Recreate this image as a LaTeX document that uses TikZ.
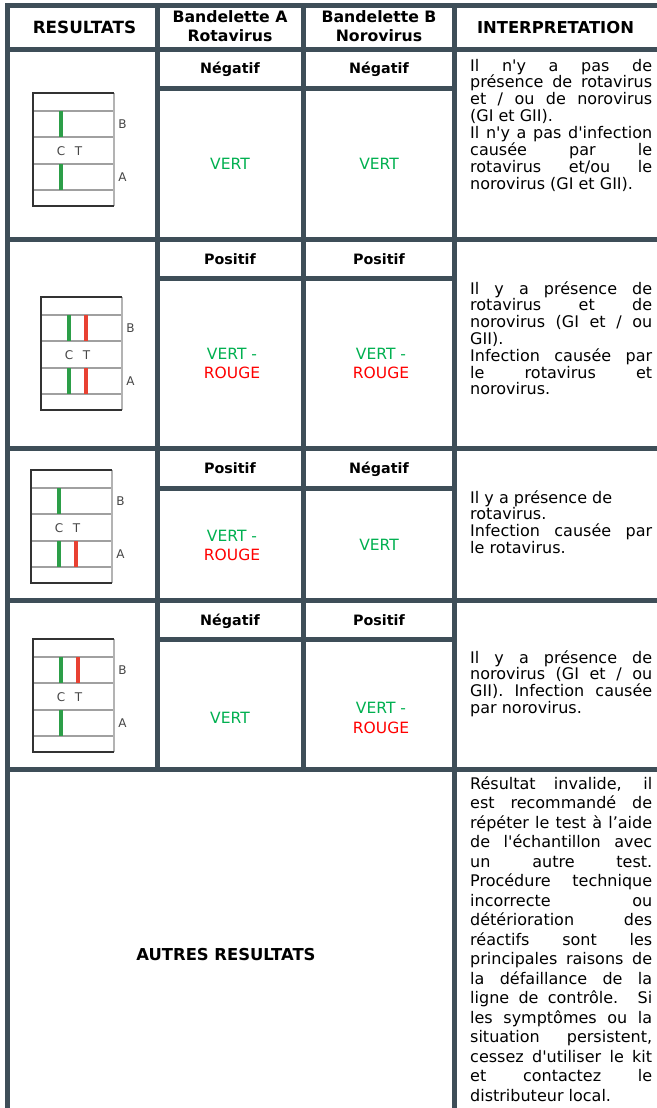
\documentclass[tikz,border=0pt]{standalone}
\usepackage{fontspec}
\setmainfont{DejaVu Sans}[Ligatures=TeXOff]
\definecolor{gridc}{RGB}{62,78,88}
\definecolor{vert}{RGB}{0,176,80}
\definecolor{rouge}{RGB}{255,0,0}
\definecolor{barg}{RGB}{44,158,72}
\definecolor{barr}{RGB}{232,65,50}
\definecolor{stripdark}{RGB}{50,50,50}
\definecolor{stripline}{RGB}{160,160,160}
\newlength\jw \setlength\jw{182pt}
\newcommand\jline[1]{\hbox to \jw{\spaceskip=0.318em plus 1fil\relax #1}}
\newcommand\lline[1]{\hbox to \jw{#1\hfil}}
\tikzset{
  gridline/.style={draw=gridc, line width=5pt, line cap=rect},
  hd/.style={font=\fontsize{15.7}{19}\selectfont\bfseries, inner sep=0pt, anchor=base},
  subhd/.style={font=\fontsize{14.3}{17}\selectfont\bfseries, inner sep=0pt, anchor=base},
  res/.style={font=\fontsize{15.5}{18.5}\selectfont, inner sep=0pt, anchor=base},
  interp/.style={font=\fontsize{16}{16.8}\selectfont, inner sep=0pt, anchor=base west},
  slab/.style={font=\fontsize{12}{13}\selectfont, text=stripdark!90, inner sep=0pt, anchor=base},
  stripin/.style={draw=stripline, line width=1.2pt},
  stripout/.style={draw=stripdark, line width=1.3pt},
  stripedge/.style={draw=stripline!80, line width=1.3pt},
}
% strip: x, y, red on B (1/0), red on A (1/0), name prefix
\newcommand\strip[5]{%
\begin{scope}[shift={(#1,#2)}]
  \draw[stripin] (0,18)--(81,18) (0,44)--(81,44) (0,71)--(81,71) (0,97)--(81,97);
  \draw[stripedge] (81,0)--(81,113);
  \draw[stripout] (81,0)--(0,0)--(0,113)--(81,113);
  \fill[barg] (25.5,18) rectangle (30,44);
  \fill[barg] (25.5,71) rectangle (30,97);
  \ifnum#3=1 \fill[barr] (42.5,18) rectangle (47,44);\fi
  \ifnum#4=1 \fill[barr] (42.5,71) rectangle (47,97);\fi
  \node[slab] (#5B) at (89.5,35.5) {B};
  \node[slab] (#5A) at (89.5,88.5) {A};
  \node[slab] (#5C) at (28,62) {C};
  \node[slab] (#5T) at (45.5,62) {T};
\end{scope}}
\begin{document}
\begin{tikzpicture}[x=1pt,y=-1pt]
\useasboundingbox (0,0) rectangle (656,1108);
\fill[white] (0,0) rectangle (656,1108);
% grid
\draw[gridline] (7.5,5.5)--(656,5.5);
\draw[gridline] (7.5,49.5)--(656,49.5);
\draw[gridline] (7.5,239.5)--(656,239.5);
\draw[gridline] (7.5,448.5)--(656,448.5);
\draw[gridline] (7.5,600.5)--(656,600.5);
\draw[gridline] (7.5,769.5)--(656,769.5);
\draw[gridline] (157,88.5)--(454.5,88.5);
\draw[gridline] (157,278.5)--(454.5,278.5);
\draw[gridline] (157,488.5)--(454.5,488.5);
\draw[gridline] (157,639.5)--(454.5,639.5);
\draw[gridline] (7.5,5.5)--(7.5,1110);
\draw[gridline] (157,5.5)--(157,769.5);
\draw[gridline] (303,5.5)--(303,769.5);
\draw[gridline] (454.5,5.5)--(454.5,1110);
% header
\node[hd, font=\fontsize{16.8}{19}\selectfont\bfseries] (hres) at (84.5,33.5) {RESULTATS};
\node[hd] (hA1) at (230,22.5) {Bandelette A};
\node[hd] (hA2) at (230,41.5) {Rotavirus};
\node[hd] (hB1) at (379,22.5) {Bandelette B};
\node[hd] (hB2) at (379,41.5) {Norovirus};
\node[hd, font=\fontsize{16.4}{19}\selectfont\bfseries] (hint) at (555.5,33.5) {INTERPRETATION};
% row 1
\strip{33}{93}{0}{0}{s1}
\node[subhd] (r1a) at (230,74) {Négatif};
\node[subhd] (r1b) at (379,74) {Négatif};
\node[res, text=vert] (r1av) at (230,169.5) {VERT};
\node[res, text=vert] (r1bv) at (379,169.5) {VERT};
\node[interp] (r1i) at (470,71) {\vtop{\baselineskip=16.9pt
  \jline{Il n'y a pas de}
  \jline{présence de rotavirus}
  \jline{et / ou de norovirus}
  \lline{(GI et GII).}
  \jline{Il n'y a pas d'infection}
  \jline{causée par le}
  \jline{rotavirus et/ou le}
  \lline{norovirus (GI et GII).}}};
% row 2
\strip{41}{297}{1}{1}{s2}
\node[subhd] (r2a) at (230,264) {Positif};
\node[subhd] (r2b) at (379,264) {Positif};
\node[res, text=vert] (r2av) at (232,359.5) {VERT -};
\node[res, text=rouge] (r2ar) at (232,378.5) {ROUGE};
\node[res, text=vert] (r2bv) at (381,359.5) {VERT -};
\node[res, text=rouge] (r2br) at (381,378.5) {ROUGE};
\node[interp] (r2i) at (470,294) {\vtop{\baselineskip=16.8pt
  \jline{Il y a présence de}
  \jline{rotavirus et de}
  \jline{norovirus (GI et / ou}
  \lline{GII).}
  \jline{Infection causée par}
  \jline{le rotavirus et}
  \lline{norovirus.}}};
% row 3
\strip{31}{470}{0}{1}{s3}
\node[subhd] (r3a) at (230,473.5) {Positif};
\node[subhd] (r3b) at (379,473.5) {Négatif};
\node[res, text=vert] (r3av) at (232,541.5) {VERT -};
\node[res, text=rouge] (r3ar) at (232,560) {ROUGE};
\node[res, text=vert] (r3bv) at (379,550) {VERT};
\node[interp] (r3i) at (470,503) {\vtop{\baselineskip=16.8pt
  \lline{Il y a présence de}
  \lline{rotavirus.}
  \jline{Infection causée par}
  \lline{le rotavirus.}}};
% row 4
\strip{33}{639}{1}{0}{s4}
\node[subhd] (r4a) at (230,625) {Négatif};
\node[subhd] (r4b) at (379,625) {Positif};
\node[res, text=vert] (r4av) at (230,723.5) {VERT};
\node[res, text=vert] (r4bv) at (381,713.5) {VERT -};
\node[res, text=rouge] (r4br) at (381,733) {ROUGE};
\node[interp] (r4i) at (470,663) {\vtop{\baselineskip=16.8pt
  \jline{Il y a présence de}
  \jline{norovirus (GI et / ou}
  \jline{GII). Infection causée}
  \lline{par norovirus.}}};
% row 5
\node[hd, font=\fontsize{16.4}{19}\selectfont\bfseries] (r5) at (226,960.5) {AUTRES RESULTATS};
\node[interp] (r5i) at (470,789) {\vtop{\baselineskip=19.5pt
  \jline{Résultat invalide, il}
  \jline{est recommandé de}
  \jline{répéter le test à l’aide}
  \jline{de l'échantillon avec}
  \jline{un autre test.}
  \jline{Procédure technique}
  \jline{incorrecte ou}
  \jline{détérioration des}
  \jline{réactifs sont les}
  \jline{principales raisons de}
  \jline{la défaillance de la}
  \jline{ligne de contrôle. Si}
  \jline{les symptômes ou la}
  \jline{situation persistent,}
  \jline{cessez d'utiliser le kit}
  \jline{et contactez le}
  \lline{distributeur local.}}};
\end{tikzpicture}
\end{document}
